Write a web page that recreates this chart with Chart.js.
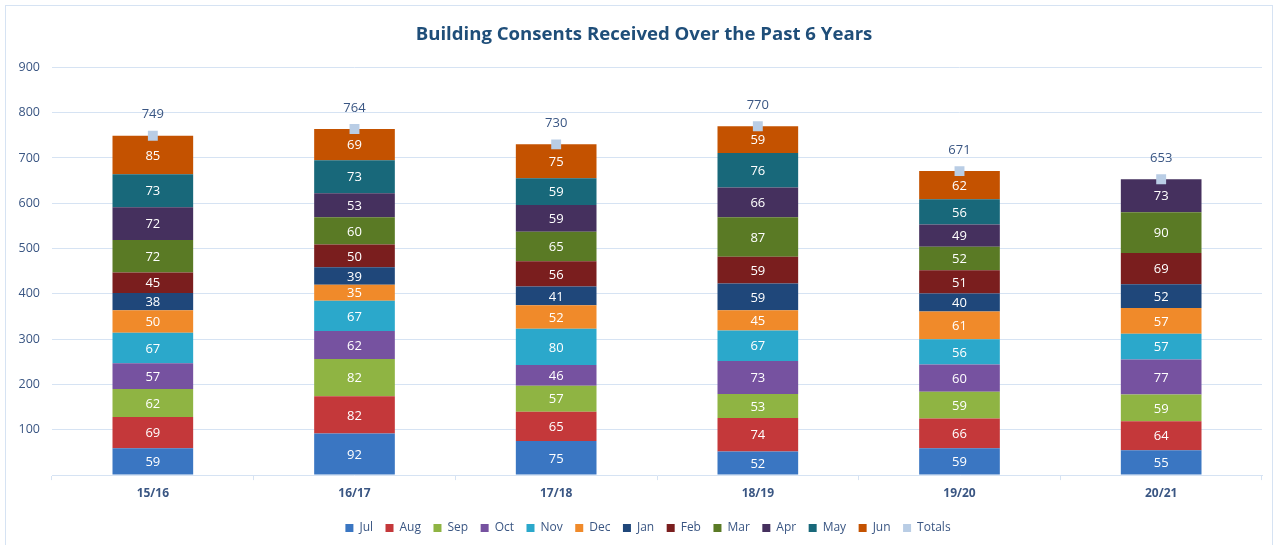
<!DOCTYPE html>
<html>
<head>
<meta charset="utf-8">
<script src="https://cdn.jsdelivr.net/npm/chart.js@4"></script>
<style>
  html, body { margin: 0; padding: 0; background: #fff; }
  #wrap { position: absolute; left: 0; top: 0; width: 1280px; height: 545px; }
  #frame { position: absolute; left: 5px; top: 5px; width: 1268px; height: 560px; border: 1px solid #D6E3F3; box-sizing: border-box; pointer-events: none; }
</style>
</head>
<body>
<div id="wrap"><canvas id="c" width="1280" height="545"></canvas></div>
<div id="frame"></div>
<script>
const categories = ['15/16', '16/17', '17/18', '18/19', '19/20', '20/21'];
const months = ['Jul', 'Aug', 'Sep', 'Oct', 'Nov', 'Dec', 'Jan', 'Feb', 'Mar', 'Apr', 'May', 'Jun'];
const jul = [59, 92, 75, 52, 59, 55];
const aug = [69, 82, 65, 74, 66, 64];
const sep = [62, 82, 57, 53, 59, 59];
const oct = [57, 62, 46, 73, 60, 77];
const nov = [67, 67, 80, 67, 56, 57];
const dec = [50, 35, 52, 45, 61, 57];
const jan = [38, 39, 41, 59, 40, 52];
const feb = [45, 50, 56, 59, 51, 69];
const mar = [72, 60, 65, 87, 52, 90];
const apr = [72, 53, 59, 66, 49, 73];
const may = [73, 73, 59, 76, 56, null];
const jun = [85, 69, 75, 59, 62, null];
const totals = [749, 764, 730, 770, 671, 653];
const yTicks = [100, 200, 300, 400, 500, 600, 700, 800, 900];

const monthValues = [jul, aug, sep, oct, nov, dec, jan, feb, mar, apr, may, jun];
const monthColors = ['#3A76C2', '#C4383A', '#8FB443', '#7652A0', '#2BA8CB', '#F08A2A',
                     '#1F477A', '#7A1E1E', '#5A7A25', '#45305E', '#18687A', '#C45200'];
const totalsColor = '#B9CDE5';
const textColor = '#3A5683';
const fontFamily = "'Open Sans', 'Noto Sans', sans-serif";

const datasets = monthValues.map((vals, i) => ({
  type: 'bar',
  label: months[i],
  data: vals,
  backgroundColor: monthColors[i],
  borderWidth: 0,
  barPercentage: 0.4,
  categoryPercentage: 1.0,
  order: 2
}));
datasets.push({
  type: 'line',
  label: 'Totals',
  data: totals,
  showLine: false,
  pointStyle: 'rect',
  pointRadius: 7,
  pointHoverRadius: 7,
  backgroundColor: totalsColor,
  borderColor: totalsColor,
  borderWidth: 0,
  order: 1
});

const labelPlugin = {
  id: 'valueLabels',
  afterDatasetsDraw(chart) {
    const ctx = chart.ctx;
    ctx.save();
    ctx.textAlign = 'center';
    ctx.textBaseline = 'middle';
    chart.data.datasets.forEach((ds, di) => {
      const meta = chart.getDatasetMeta(di);
      if (meta.hidden) return;
      meta.data.forEach((el, i) => {
        const v = ds.data[i];
        if (v === null || v === undefined) return;
        if (ds.type === 'bar') {
          ctx.font = "13px " + fontFamily;
          ctx.fillStyle = '#FFFFFF';
          const cy = (el.y + el.base) / 2;
          ctx.fillText(String(v), el.x, cy + 1);
        } else {
          ctx.font = "13px " + fontFamily;
          ctx.fillStyle = textColor;
          ctx.fillText(String(v), el.x, el.y - 21);
        }
      });
    });
    ctx.restore();
  }
};

// Shift title and legend boxes horizontally to match the reference centring
const shiftPlugin = {
  id: 'shiftBoxes',
  afterLayout(chart) {
    if (chart.titleBlock) { chart.titleBlock.left += 13; chart.titleBlock.right += 13; }
    if (chart.legend) { chart.legend.left += 17; chart.legend.right += 17; }
  }
};

new Chart(document.getElementById('c'), {
  data: { labels: categories, datasets: datasets },
  options: {
    responsive: false,
    animation: false,
    layout: { padding: { left: 0, right: 18, top: 8, bottom: 1 } },
    plugins: {
      title: {
        display: true,
        text: 'Building Consents Received Over the Past 6 Years',
        color: '#1F4E79',
        font: { family: fontFamily, size: 18.6, weight: 'bold' },
        padding: { top: 16, bottom: 21 }
      },
      legend: {
        position: 'bottom',
        labels: {
          color: textColor,
          font: { family: fontFamily, size: 12 },
          boxWidth: 8,
          boxHeight: 8,
          padding: 12.5,
          usePointStyle: true,
          pointStyle: 'rect',
          sort: (a, b) => a.datasetIndex - b.datasetIndex
        }
      },
      tooltip: { enabled: false }
    },
    scales: {
      x: {
        stacked: true,
        grid: { display: true, drawOnChartArea: false, drawTicks: true, tickLength: 5, color: '#D6E3F3', offset: true },
        border: { display: true, color: '#D6E3F3' },
        ticks: { color: textColor, font: { family: fontFamily, size: 12, weight: 'bold' }, padding: 6 },
        afterFit(scale) { scale.height += 3; }
      },
      y: {
        stacked: true,
        min: 0,
        max: 900,
        afterBuildTicks(scale) { scale.ticks = [0].concat(yTicks).map(v => ({ value: v })); },
        afterFit(scale) { scale.width = 52; },
        grid: { color: ctx => ctx.tick && ctx.tick.value === 0 ? 'rgba(0,0,0,0)' : '#D6E3F3', drawTicks: false },
        border: { display: false },
        ticks: {
          color: textColor,
          font: { family: fontFamily, size: 12.5 },
          padding: 12,
          callback: v => (v === 0 ? '' : v)
        }
      }
    }
  },
  plugins: [labelPlugin, shiftPlugin]
});
</script>
</body>
</html>
